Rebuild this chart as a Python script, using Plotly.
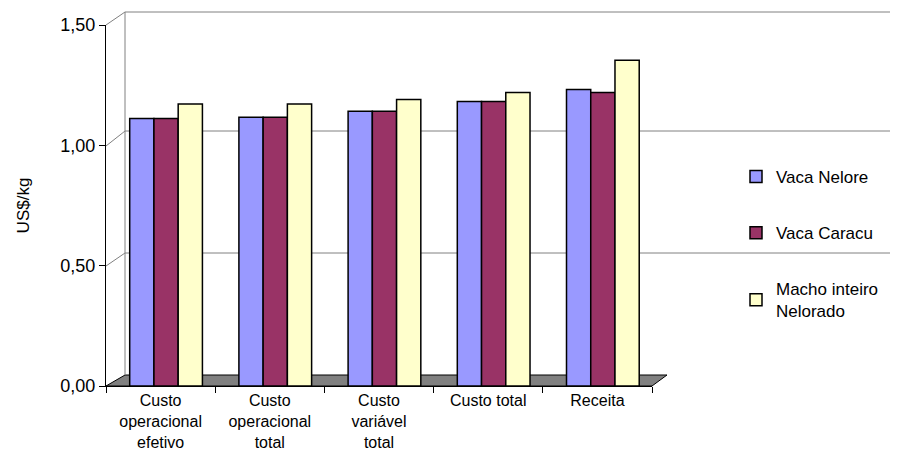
import plotly.graph_objects as go

categories = ["Custo<br>operacional<br>efetivo", "Custo<br>operacional<br>total",
              "Custo<br>variável<br>total", "Custo total", "Receita"]
series_names = ["Vaca Nelore", "Vaca Caracu", "Macho inteiro<br>Nelorado"]
vaca_nelore = [1.112, 1.117, 1.142, 1.182, 1.232]
vaca_caracu = [1.112, 1.117, 1.142, 1.182, 1.220]
macho_inteiro = [1.172, 1.172, 1.190, 1.220, 1.354]
colors = ["#9999FF", "#993366", "#FFFFCC"]
y_ticks = [0, 0.5, 1.0, 1.5]
y_tick_text = ["0,00", "0,50", "1,00", "1,50"]

L, R, T, B = 106, 652, 25, 386
W, H = 901, 463

bar_w = 0.222
start = -1.5 * bar_w + 0.05

fig = go.Figure()
for i, (name, vals) in enumerate(zip(series_names, [vaca_nelore, vaca_caracu, macho_inteiro])):
    fig.add_trace(go.Bar(
        x=categories, y=vals, name=name, legendgroup=str(i),
        width=bar_w, offset=start + i * bar_w,
        marker=dict(color=colors[i], line=dict(color="black", width=1.5)),
    ))

pw = R - L
ph = B - T
def px(x):
    return (x - L) / pw
def py(y):
    return (B - y) / ph

grey = "#808080"
shapes = []
# floor
shapes.append(dict(type="path", xref="paper", yref="paper",
                   path=f"M {px(106)} {py(386)} L {px(652)} {py(386)} L {px(667)} {py(375)} L {px(125)} {py(375)} Z",
                   fillcolor=grey, line=dict(color="black", width=1), layer="below"))
# back wall lines (pixel positions of the back wall)
front_y = [146, 266, 25]
back_y = [131, 253, 12]
for fy, by in zip(front_y, back_y):
    shapes.append(dict(type="line", xref="paper", yref="paper", x0=px(125), x1=px(890), y0=py(by), y1=py(by),
                       line=dict(color=grey, width=1), layer="below"))
    shapes.append(dict(type="line", xref="paper", yref="paper", x0=0, x1=px(125), y0=py(fy), y1=py(by),
                       line=dict(color=grey, width=1), layer="below"))
shapes.append(dict(type="line", xref="paper", yref="paper", x0=px(125), x1=px(125), y0=py(375), y1=py(12),
                   line=dict(color=grey, width=1), layer="below"))

fig.update_layout(
    width=W, height=H,
    margin=dict(l=L, r=W - R, t=T, b=H - B),
    paper_bgcolor="white", plot_bgcolor="rgba(0,0,0,0)",
    barmode="group", bargap=0.33, bargroupgap=0,
    font=dict(family="Liberation Sans, Arial, sans-serif", color="black", size=16),
    shapes=shapes,
    legend=dict(x=px(736), y=py(159), xanchor="left", yanchor="top",
                font=dict(size=17), tracegroupgap=31, itemwidth=30,
                bgcolor="rgba(0,0,0,0)"),
    xaxis=dict(showline=True, linecolor="black", linewidth=1, ticks="outside",
               tickson="boundaries", ticklen=6, tickcolor="black",
               tickfont=dict(size=16), showgrid=False),
    yaxis=dict(range=[0, 1.5], tickvals=y_ticks, ticktext=y_tick_text,
               showline=True, linecolor="black", linewidth=1, ticks="outside",
               ticklen=6, tickcolor="black", showgrid=False, zeroline=False,
               tickfont=dict(size=18),
               title=dict(text="US$/kg", font=dict(size=17), standoff=26)),
)

fig.write_html("out.html")
